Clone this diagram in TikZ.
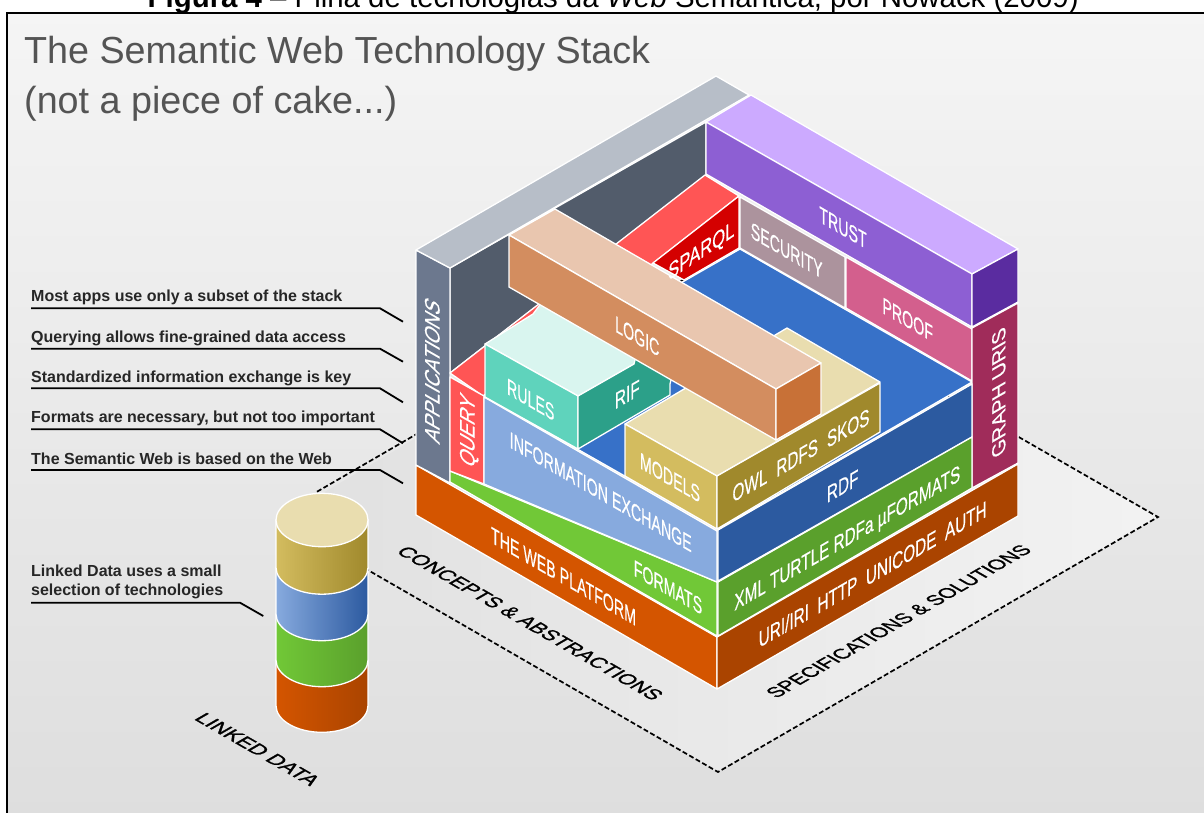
\documentclass[tikz,border=0pt]{standalone}
\usepackage{fontspec}
\setmainfont{Liberation Sans}
\newfontfamily\lblfont[FakeBold=0.5]{Liberation Sans}
\newfontfamily\floorfont[FakeBold=1.2]{Liberation Sans}
\definecolor{cGray}{HTML}{B7BEC8}
\definecolor{cAppL}{HTML}{6C788E}
\definecolor{cDark}{HTML}{525C6B}
\definecolor{cRed}{HTML}{FF5555}
\definecolor{cSparql}{HTML}{D40000}
\definecolor{cLilac}{HTML}{CCAAFF}
\definecolor{cPurp}{HTML}{8D5FD3}
\definecolor{cPurpD}{HTML}{5A2CA0}
\definecolor{cSec}{HTML}{AC939D}
\definecolor{cProof}{HTML}{D35F8D}
\definecolor{cGraph}{HTML}{A02C5A}
\definecolor{cBlue}{HTML}{3771C8}
\definecolor{cBlueD}{HTML}{2C5AA0}
\definecolor{cInfo}{HTML}{87AADE}
\definecolor{cGreen}{HTML}{71C837}
\definecolor{cGreenD}{HTML}{5AA02C}
\definecolor{cOr}{HTML}{D45500}
\definecolor{cOrD}{HTML}{AA4400}
\definecolor{cModT}{HTML}{E9DDAF}
\definecolor{cMod}{HTML}{D3BC5F}
\definecolor{cModD}{HTML}{A0892C}
\definecolor{cRuleT}{HTML}{D9F5EF}
\definecolor{cRule}{HTML}{5FD3BC}
\definecolor{cRif}{HTML}{2CA089}
\definecolor{cLogT}{HTML}{E9C6AF}
\definecolor{cLog}{HTML}{D38D5F}
\definecolor{cLogD}{HTML}{C87137}
\tikzset{
  face/.style={draw=white,line width=1.3pt,line join=round,fill=#1},
  lbl/.style={font=\lblfont\fontsize{10}{12}\selectfont,text=white,inner sep=0pt,text height=7.2pt,text depth=0pt},
  leftface/.style={lbl,cm={1.42,-0.82,0,2.3,(0,0)}},
  rightface/.style={lbl,cm={1.53,0.883,0,2.3,(0,0)}},
  sparqlface/.style={lbl,cm={1.66,1.13,0,2.3,(0,0)}},
  upleft/.style={lbl,cm={0,1.96,-2.1,1.2,(0,0)}},
  upright/.style={lbl,cm={0,2.04,-1.9,-1.1,(0,0)}},
  floorL/.style={font=\floorfont\fontsize{10}{12}\selectfont,inner sep=0pt,text height=7.2pt,text depth=0pt,cm={#1,-0.577*#1,1.75,1.01,(0,0)}},
  floorR/.style={font=\floorfont\fontsize{10}{12}\selectfont,inner sep=0pt,text height=7.2pt,text depth=0pt,cm={#1,0.577*#1,-1.75,1.01,(0,0)}},
  note/.style={font=\fontsize{16}{19}\bfseries\selectfont,inner sep=0pt,anchor=base west,text=black!85},
  leader/.style={draw=black,line width=1.8pt},
  edge/.style={draw=black,line width=1.7pt,dash pattern=on 5pt off 2.5pt},
  band/.style 2 args={draw=white,line width=1.3pt,left color=#1,right color=#2},
}
\newcommand{\cylband}[4]{%
  \path[band={#3}{#4}] (276,#1) -- (276,#2)
    .. controls (276,#2+14.7) and (296.6,#2+26.7) .. (322,#2+26.7)
    .. controls (347.4,#2+26.7) and (368,#2+14.7) .. (368,#2)
    -- (368,#1) -- cycle;}
\begin{document}
\begin{tikzpicture}[x=1pt,y=-1pt]
\useasboundingbox (0,0) rectangle (1204,812);
\fill[white] (0,0) rectangle (1204,812);
% background and frame
\path[top color=white!96!black,middle color=white!94!black,bottom color=white!87!black] (7,13) rectangle (1215,825);
\draw[black,line width=1.3pt] (1215,13) -- (7,13) -- (7,825);
% caption (cut by the page edge)
\node[anchor=base west,inner sep=0pt,font=\fontsize{29.4}{32}\selectfont] (caption) at (147.5,7)
  {\textbf{Figura 4} -- Pilha de tecnologias da \textit{Web} Semântica, por Nowack (2009)};
% title
\node[anchor=base west,inner sep=0pt,font=\fontsize{37.7}{40}\selectfont,text=black!67] (title1) at (24,63) {The Semantic Web Technology Stack};
\node[anchor=base west,inner sep=0pt,font=\fontsize{37.7}{40}\selectfont,text=black!67] (title2) at (24,113) {(not a piece of cake...)};
% floor
\coordinate (fL) at (279,519);
\coordinate (fB) at (718,772);
\coordinate (fR) at (1158,517);
\coordinate (fT) at (714,262);
\coordinate (fA) at (317,491.7);
\coordinate (fC) at (367,569.5);
\path[left color=white!88!black,middle color=white!94!black,right color=white!95!black] (fL) -- (fB) -- (fR) -- (fT) -- cycle;
\draw[edge] (fA) -- (fT) -- (fR) -- (fB) -- (fC);
% base
\path[face=cOr] (416,465) -- (717,637) -- (717,689) -- (416,515) -- cycle;
\path[face=cOrD] (717,637) -- (1018,464) -- (1018,516) -- (717,689) -- cycle;
% applications wall
\path[face=cDark] (450,268) -- (706,122) -- (706,175) -- (450,373) -- cycle;
\path[face=cAppL] (416,250) -- (450,268) -- (450,483) -- (416,465) -- cycle;
\path[face=cGray] (416,250) -- (716,76) -- (749,95) -- (450,268) -- cycle;
% floors
\path[face=cRed] (705,175) -- (739,196) -- (483,396) -- (450,373) -- cycle;
\path[face=cBlue] (740,249) -- (972,382) -- (718,529) -- (484,396) -- cycle;
% back walls
\path[face=cSparql] (739,196) -- (739,248) -- (684,280) -- (653,263) -- cycle;
\path[face=cSec] (740,197) -- (845,257) -- (845,308) -- (740,248) -- cycle;
\path[face=cProof] (846,257) -- (972,329) -- (972,381) -- (846,308) -- cycle;
\path[face=cLilac] (706,122) -- (751,95) -- (1018,249) -- (972,274) -- cycle;
\path[face=cPurp] (706,122) -- (972,274) -- (972,327) -- (706,174) -- cycle;
\path[face=cPurpD] (972,274) -- (1018,249) -- (1018,302) -- (972,327) -- cycle;
\path[face=cGraph] (972,328) -- (1018,303) -- (1018,463) -- (972,488) -- cycle;
% front right layers
\path[face=cBlueD] (718,530) -- (972,384) -- (972,437) -- (718,581) -- cycle;
\path[face=cGreenD] (718,582) -- (972,437) -- (972,488) -- (718,636) -- cycle;
% front left layers
\path[face=cGreen] (450,471) -- (717,582) -- (717,636) -- (450,482) -- cycle;
\path[face=cRed] (450,377) -- (484,396) -- (484,484) -- (450,471) -- cycle;
\path[face=cInfo] (484,397) -- (717,531) -- (717,582) -- (484,484) -- cycle;
% models
\path[face=cModT] (625,424) -- (787,328) -- (880,382) -- (717,476) -- cycle;
\path[face=cMod] (625,424) -- (717,476) -- (717,529) -- (625,476) -- cycle;
\path[face=cModD] (717,476) -- (880,383) -- (880,432) -- (717,529) -- cycle;
% rules
\path[face=cRuleT] (485,344) -- (533,314) -- (545,298) -- (640,352) -- (634,364) -- (578,396) -- cycle;
\path[face=cRule] (485,344) -- (578,396) -- (578,449) -- (485,397) -- cycle;
\path[face=cRif] (578,396) -- (634,364) -- (636,356) -- (672,376) -- (670,384) -- (670,395) -- (578,449) -- cycle;
% logic
\path[face=cLogT] (509,235) -- (555,209) -- (821,363) -- (776,389) -- cycle;
\path[face=cLog] (509,235) -- (776,389) -- (776,440) -- (509,287) -- cycle;
\path[face=cLogD] (776,389) -- (821,363) -- (821,414) -- (776,440) -- cycle;
% cylinder
\cylband{660}{705.6}{cOr}{cOrD}
\cylband{614}{660}{cGreen}{cGreenD}
\cylband{567.5}{614}{cInfo}{cBlueD}
\cylband{520}{567.5}{cMod}{cModD}
\draw[draw=white,line width=1.3pt,fill=cModT] (322,520) ellipse [x radius=46pt,y radius=26.7pt];
% face labels
\node[leftface] (lWeb) at (563.5,576) {THE WEB PLATFORM};
\node[leftface] (lFormats) at (668,587) {FORMATS};
\node[leftface] (lInfo) at (600.7,491.7) {INFORMATION EXCHANGE};
\node[leftface] (lRules) at (530.7,399.3) {RULES};
\node[leftface] (lModels) at (670,477.3) {MODELS};
\node[leftface] (lLogic) at (637.3,336) {LOGIC};
\node[leftface] (lSec) at (786.7,250) {SECURITY};
\node[leftface] (lTrust) at (843,227.3) {TRUST};
\node[leftface] (lProof) at (907.7,319.3) {PROOF};
\node[rightface] (lOnt) at (801,455) {OWL \hspace{3.1pt}RDFS \hspace{3.1pt}SKOS};
\node[rightface] (lRdf) at (842.7,485.7) {RDF};
\node[rightface] (lXml) at (847.3,537.3) {XML TURTLE RDFa µFORMATS};
\node[rightface] (lUri) at (872.7,574) {URI/IRI \ HTTP \ UNICODE \ AUTH};
\node[sparqlface] (lSparql) at (701.3,250) {SPARQL};
\node[rightface] (lRif) at (627.3,394) {RIF};
\node[upleft] (lApp) at (432,370) {APPLICATIONS};
\node[upleft] (lQuery) at (467,430) {QUERY};
\node[upright] (lGraph) at (998.5,393) {GRAPH URIS};
% floor labels
\node[floorL=1.77] (lConcepts) at (530.5,623) {CONCEPTS \& ABSTRACTIONS};
\node[floorR=1.68] (lSpecs) at (898.3,621) {SPECIFICATIONS \& SOLUTIONS};
\node[floorL=1.82] (lLinked) at (258,749) {LINKED DATA};
% notes
\node[note] (n1) at (31,301.7) {Most apps use only a subset of the stack};
\node[note] (n2) at (31,342.7) {Querying allows fine-grained data access};
\node[note] (n3) at (31,382.7) {Standardized information exchange is key};
\node[note] (n4) at (31,422.7) {Formats are necessary, but not too important};
\node[note] (n5) at (31,464) {The Semantic Web is based on the Web};
\node[note] (n6a) at (31,576) {Linked Data uses a small};
\node[note] (n6b) at (31,595.5) {selection of technologies};
\coordinate (s1) at (31,308.3); \coordinate (k1) at (380,308.3); \coordinate (e1) at (403,321.7);
\coordinate (s2) at (31,348.7); \coordinate (k2) at (380,348.7); \coordinate (e2) at (403,361.7);
\coordinate (s3) at (31,388.3); \coordinate (k3) at (380,388.3); \coordinate (e3) at (403,402.3);
\coordinate (s4) at (31,429.3); \coordinate (k4) at (380,429.3); \coordinate (e4) at (403,443.3);
\coordinate (s5) at (31,470);   \coordinate (k5) at (380,470);   \coordinate (e5) at (403,483.3);
\coordinate (s6) at (31,602.7); \coordinate (k6) at (240,602.7); \coordinate (e6) at (263.3,616);
\foreach \i in {1,...,6} \draw[leader] (s\i) -- (k\i) -- (e\i);
\end{tikzpicture}
\end{document}
